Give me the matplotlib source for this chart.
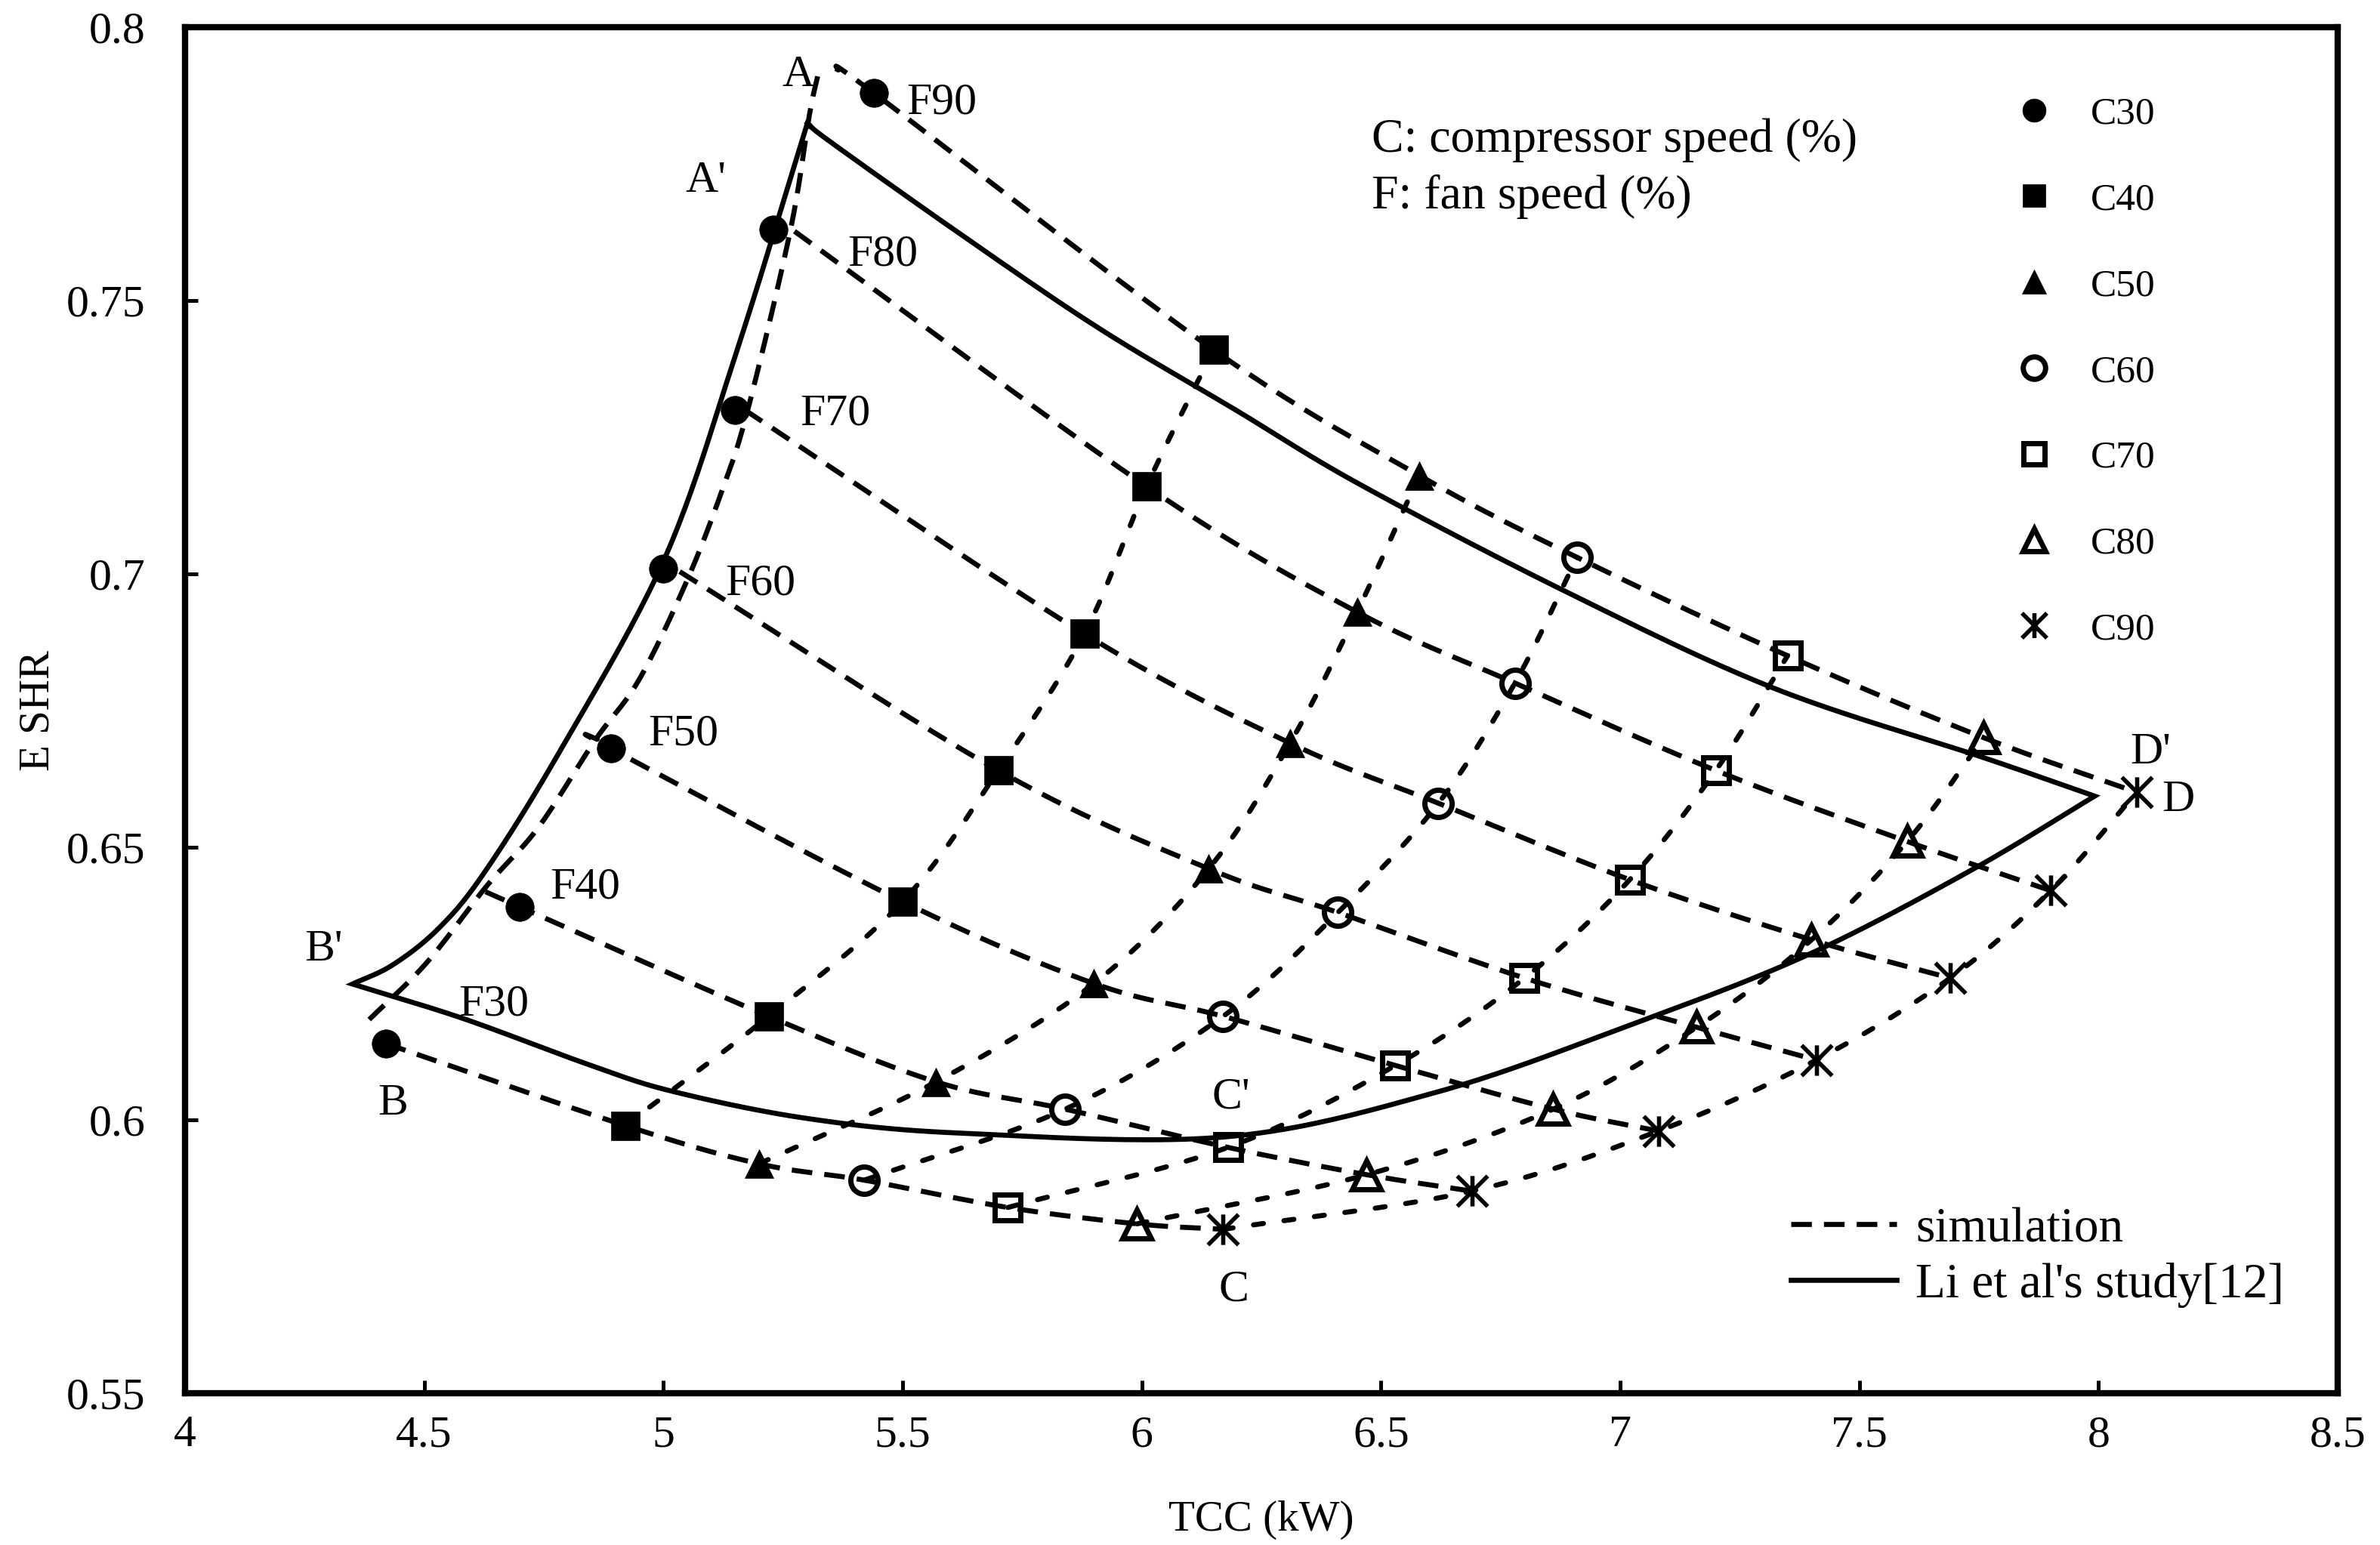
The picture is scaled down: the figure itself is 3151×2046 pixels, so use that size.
import matplotlib
matplotlib.use("Agg")
import matplotlib.pyplot as plt
import numpy as np
from matplotlib.lines import Line2D
from matplotlib.path import Path

plt.rcParams["font.family"] = ["Liberation Serif", "DejaVu Serif"]

# fan speed levels (%), every list below runs F30 ... F90
F_LEVELS = [30, 40, 50, 60, 70, 80, 90]
C_LEVELS = [30, 40, 50, 60, 70, 80, 90]

# marker data: TCC (kW) and ESHR per compressor speed
tcc_c30 = [4.42, 4.70, 4.89, 5.00, 5.15, 5.23, 5.44]
tcc_c40 = [4.92, 5.22, 5.50, 5.70, 5.88, 6.01, 6.15]
tcc_c50 = [5.20, 5.57, 5.90, 6.14, 6.31, 6.45, 6.58]
tcc_c60 = [5.42, 5.84, 6.17, 6.41, 6.62, 6.78, 6.91]
tcc_c70 = [5.72, 6.18, 6.53, 6.80, 7.02, 7.20, 7.35]
tcc_c80 = [5.99, 6.47, 6.86, 7.16, 7.40, 7.60, 7.76]
tcc_c90 = [6.17, 6.69, 7.08, 7.41, 7.69, 7.90, 8.08]

eshr_c30 = [0.614, 0.639, 0.668, 0.701, 0.730, 0.763, 0.788]
eshr_c40 = [0.599, 0.619, 0.640, 0.664, 0.689, 0.716, 0.741]
eshr_c50 = [0.592, 0.607, 0.625, 0.646, 0.669, 0.693, 0.718]
eshr_c60 = [0.589, 0.602, 0.619, 0.638, 0.658, 0.680, 0.703]
eshr_c70 = [0.584, 0.595, 0.610, 0.626, 0.644, 0.664, 0.685]
eshr_c80 = [0.581, 0.590, 0.602, 0.617, 0.633, 0.651, 0.670]
eshr_c90 = [0.580, 0.587, 0.598, 0.611, 0.626, 0.642, 0.660]

# simulated C30 boundary (dashed line A-B), bottom to top
sim_c30_x = [4.385, 4.505, 4.632, 4.738, 4.857, 4.949, 5.048, 5.122, 5.176, 5.265, 5.305, 5.323]
sim_c30_y = [0.6184, 0.6288, 0.643, 0.6535, 0.6695, 0.6806, 0.6985, 0.7151, 0.7299, 0.7627, 0.7839, 0.7913]

# where each constant-fan dashed line starts (on the C30 boundary)
f_start_x = [4.42, 4.628, 4.861, 5.034, 5.17, 5.274, 5.36]
f_start_y = [0.614, 0.6418, 0.6698, 0.7004, 0.730, 0.7627, 0.7925]

# Li et al's operating envelope (solid): A -> B', B' -> C' -> D', A -> D'
li_left_x = [5.301, 5.156, 5.002, 4.780, 4.624, 4.529, 4.434, 4.350]
li_left_y = [0.7825, 0.7415, 0.7027, 0.6670, 0.6451, 0.6350, 0.6284, 0.6249]
li_bottom_x = [4.350, 4.581, 4.839, 5.017, 5.300, 5.623, 6.172, 6.616, 7.024, 7.391, 7.729, 7.992]
li_bottom_y = [0.6249, 0.6186, 0.6103, 0.6053, 0.6003, 0.5976, 0.5969, 0.6051, 0.6175, 0.6302,
               0.6455, 0.6593]
li_top_x = [5.301, 5.350, 5.632, 5.913, 6.196, 6.455, 6.885, 7.320, 7.758, 7.992]
li_top_y = [0.7825, 0.779, 0.7615, 0.7448, 0.7300, 0.7164, 0.6968, 0.6791, 0.6664, 0.6593]

# point annotations (cap-height centres)
point_labels = ["A", "A'", "B", "B'", "C", "C'", "D", "D'",
                "F90", "F80", "F70", "F60", "F50", "F40", "F30"]
point_label_x = [5.282, 5.088, 4.434, 4.290, 6.193, 6.187, 8.167, 8.109,
                 5.582, 5.459, 5.359, 5.203, 5.041, 4.837, 4.645]
point_label_y = [0.792, 0.7726, 0.6037, 0.632, 0.5696, 0.6049, 0.6593, 0.668,
                 0.787, 0.7592, 0.730, 0.6989, 0.6714, 0.6433, 0.6219]

xticks = [4, 4.5, 5, 5.5, 6, 6.5, 7, 7.5, 8, 8.5]
xtick_labels = ["4", "4.5", "5", "5.5", "6", "6.5", "7", "7.5", "8", "8.5"]
yticks = [0.55, 0.6, 0.65, 0.7, 0.75, 0.8]
ytick_labels = ["0.55", "0.6", "0.65", "0.7", "0.75", "0.8"]

XLIM = (4.0, 8.5)
YLIM = (0.55, 0.8)
BOX_ASPECT = 1808.6 / 2850.0  # axes height / width, so smoothing happens in square space


def smooth(xs, ys, n=24):
    """Excel-style smoothed line: Catmull-Rom through the points in axes-fraction space."""
    u = (np.asarray(xs, float) - XLIM[0]) / (XLIM[1] - XLIM[0])
    v = (np.asarray(ys, float) - YLIM[0]) / (YLIM[1] - YLIM[0]) * BOX_ASPECT
    pts = np.column_stack([u, v])
    if len(pts) < 3:
        return np.asarray(xs, float), np.asarray(ys, float)
    ext = np.vstack([2 * pts[0] - pts[1], pts, 2 * pts[-1] - pts[-2]])
    t = np.linspace(0, 1, n, endpoint=False)[:, None]
    segs = []
    for i in range(len(pts) - 1):
        p0, p1, p2, p3 = ext[i:i + 4]
        segs.append(0.5 * (2 * p1 + (p2 - p0) * t + (2 * p0 - 5 * p1 + 4 * p2 - p3) * t ** 2
                           + (3 * p1 - p0 - 3 * p2 + p3) * t ** 3))
    segs.append(pts[-1:])
    out = np.vstack(segs)
    return (XLIM[0] + out[:, 0] * (XLIM[1] - XLIM[0]),
            YLIM[0] + out[:, 1] / BOX_ASPECT * (YLIM[1] - YLIM[0]))


tcc = dict(zip(C_LEVELS, [tcc_c30, tcc_c40, tcc_c50, tcc_c60, tcc_c70, tcc_c80, tcc_c90]))
eshr = dict(zip(C_LEVELS, [eshr_c30, eshr_c40, eshr_c50, eshr_c60, eshr_c70, eshr_c80, eshr_c90]))

# Excel-like asterisk: vertical bar plus a diagonal cross
ASTERISK = Path([(0, -1), (0, 1), (-1, -1), (1, 1), (-1, 1), (1, -1)],
                [Path.MOVETO, Path.LINETO] * 3)

LW = 4.8
F_DASH = (0, (4.1, 2.4))
C_DASH = (0, (2.0, 4.1))

markers = {
    30: dict(marker="o", ms=27, mfc="black", mec="black", mew=0.5),
    40: dict(marker="s", ms=27, mfc="black", mec="black", mew=0.5),
    50: dict(marker="^", ms=28, mfc="black", mec="black", mew=0.5),
    60: dict(marker="o", ms=26, mfc="none", mec="black", mew=5),
    70: dict(marker="s", ms=25, mfc="none", mec="black", mew=5),
    80: dict(marker="^", ms=27, mfc="none", mec="black", mew=5),
    90: dict(marker=ASTERISK, ms=29, mfc="none", mec="black", mew=4),
}

fig = plt.figure(figsize=(31.51, 20.46), dpi=100)
ax = fig.add_axes([245 / 3151, 201 / 2046, 2850 / 3151, 1808.6 / 2046])

# constant fan speed lines: from the C30 boundary through C40 ... C90
for j, f in enumerate(F_LEVELS):
    xs, ys = [f_start_x[j]], [f_start_y[j]]
    for c in C_LEVELS:
        if tcc[c][j] > f_start_x[j] + 0.01:
            xs.append(tcc[c][j])
            ys.append(eshr[c][j])
    sx, sy = smooth(xs, ys)
    ax.plot(sx, sy, color="black", lw=LW, ls=F_DASH, dash_capstyle="butt", zorder=2)

# simulated C30 boundary
sx, sy = smooth(sim_c30_x, sim_c30_y)
ax.plot(sx, sy, color="black", lw=LW, ls=F_DASH, dash_capstyle="butt", zorder=2)

# constant compressor speed lines
for c in C_LEVELS[1:]:
    sx, sy = smooth(tcc[c], eshr[c])
    ax.plot(sx, sy, color="black", lw=LW, ls=C_DASH, dash_capstyle="round", zorder=2)

# Li et al's envelope as one closed outline
lx, ly = smooth(li_left_x, li_left_y)
bx, by = smooth(li_bottom_x, li_bottom_y)
tx, ty = smooth(li_top_x, li_top_y)
ax.plot(np.concatenate([lx, bx[1:], tx[::-1][1:]]), np.concatenate([ly, by[1:], ty[::-1][1:]]),
        color="black", lw=LW, solid_joinstyle="miter", zorder=2)

for c in C_LEVELS:
    ax.plot(tcc[c], eshr[c], ls="none", zorder=3, **markers[c])

# labels were read at cap-height centre; matplotlib's "center" sits a bit lower
for lab, x, y in zip(point_labels, point_label_x, point_label_y):
    ax.text(x, y - 0.0008, lab, fontsize=43, ha="center", va="center", zorder=4)

ax.text(6.48, 0.7773, "C: compressor speed (%)", fontsize=46, ha="left", va="baseline")
ax.text(6.48, 0.7669, "F: fan speed (%)", fontsize=46, ha="left", va="baseline")

# marker legend (top right)
handles = [Line2D([], [], ls="none", **markers[c]) for c in C_LEVELS]
leg1 = ax.legend(handles, [f"C{c}" for c in C_LEVELS], loc="upper left",
                 bbox_to_anchor=(0.850, 0.9495), frameon=False, fontsize=37,
                 markerscale=0.82, handlelength=1.0, handletextpad=0.95,
                 labelspacing=1.3, borderpad=0, borderaxespad=0)
ax.add_artist(leg1)

# line-style legend (bottom right)
line_handles = [Line2D([], [], color="black", lw=LW, ls=F_DASH, dash_capstyle="butt"),
                Line2D([], [], color="black", lw=LW)]
ax.legend(line_handles, ["simulation", "Li et al's study[12]"], loc="upper left",
          bbox_to_anchor=(0.746, 0.1364), frameon=False, fontsize=47,
          handlelength=2.15, handletextpad=0.38, labelspacing=0.21,
          borderpad=0, borderaxespad=0)

ax.set_xlim(*XLIM)
ax.set_ylim(*YLIM)
ax.set_xticks(xticks)
ax.set_xticklabels(xtick_labels)
ax.set_yticks(yticks)
ax.set_yticklabels(ytick_labels)
ax.tick_params(direction="in", length=12, width=3.6, labelsize=43)
ax.tick_params(axis="x", pad=21)
ax.tick_params(axis="y", pad=38)
for sp in ax.spines.values():
    sp.set_linewidth(6)
ax.set_xlabel("TCC (kW)", fontsize=41, labelpad=42)
ax.set_ylabel("E SHR", fontsize=41, labelpad=8)

fig.savefig("out.png", dpi=100)
